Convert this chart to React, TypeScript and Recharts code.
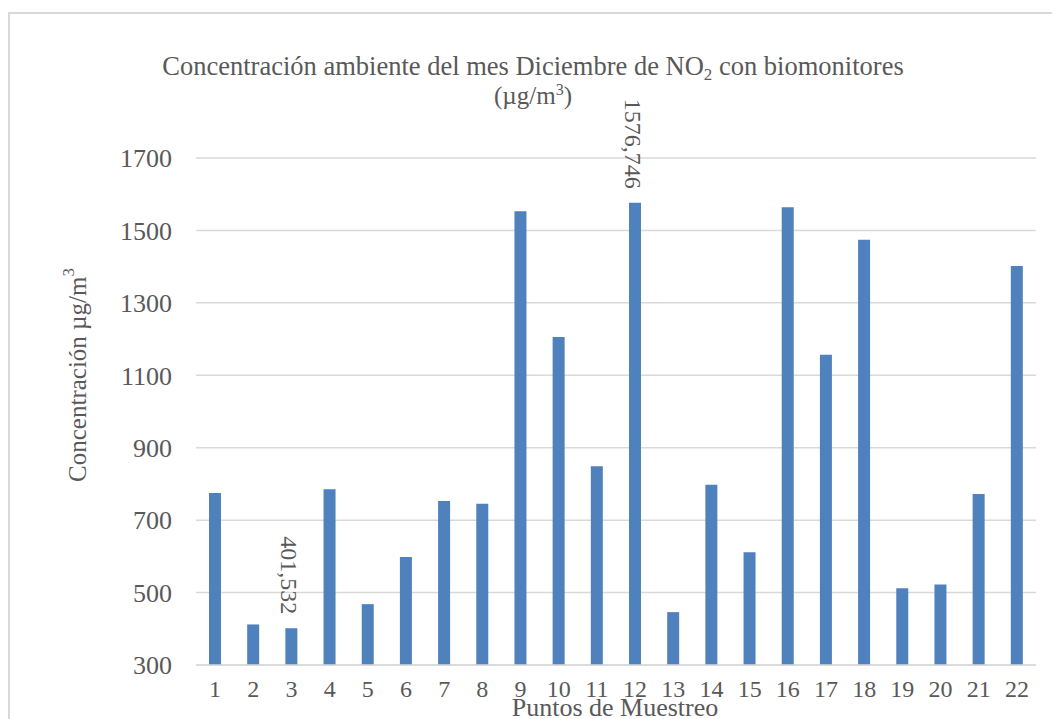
import React from 'react';
import { BarChart, Bar, XAxis, YAxis, CartesianGrid, LabelList } from 'recharts';

const puntos = ['1', '2', '3', '4', '5', '6', '7', '8', '9', '10', '11', '12', '13', '14', '15', '16', '17', '18', '19', '20', '21', '22'];
const concentracion = [775, 412, 401.532, 785, 468, 598, 753, 745, 1553, 1206, 849, 1576.746, 446, 798, 611, 1564, 1157, 1474, 512, 522, 772, 1402];
const etiquetas = [null, null, '401,532', null, null, null, null, null, null, null, null, '1576,746', null, null, null, null, null, null, null, null, null, null];
const yTicks = [300, 500, 700, 900, 1100, 1300, 1500, 1700];

const data = puntos.map((p, i) => ({ punto: p, valor: concentracion[i], etiqueta: etiquetas[i] }));

const TEXT = '#595959';
const FONT = '"Liberation Serif", "Times New Roman", serif';

const RotatedLabel = (props: any) => {
  const { x, y, width, value } = props;
  if (!value) return null;
  const cx = x + width / 2 - 2;
  const cy = y - 14;
  return (
    <text
      x={cx}
      y={cy}
      transform={`rotate(90, ${cx}, ${cy})`}
      textAnchor="end"
      dominantBaseline="central"
      fill={TEXT}
      fontSize={24}
      fontFamily={FONT}
    >
      {value}
    </text>
  );
};

export default function App() {
  return (
    <div style={{ position: 'relative', width: 1052, height: 711, overflow: 'hidden', fontFamily: FONT }}>
      <div
        style={{
          position: 'absolute', left: 0, top: 4, width: 1200, height: 900,
          borderLeft: '2px solid #d9d9d9', borderTop: '2px solid #d9d9d9',
        }}
      />
      <BarChart
        width={1052}
        height={711}
        data={data}
        margin={{ top: 150, right: 24, left: 0, bottom: 0 }}
        barSize={12}
        style={{ position: 'absolute', left: 0, top: 0 }}
      >
        <CartesianGrid vertical={false} stroke="#d9d9d9" strokeWidth={1.5} />
        <XAxis
          dataKey="punto"
          height={54}
          axisLine={{ stroke: '#d9d9d9', strokeWidth: 1.5 }}
          tickLine={false}
          tickSize={6}
          tickMargin={9}
          interval={0}
          tick={{ fill: TEXT, fontSize: 24, fontFamily: FONT }}
        />
        <YAxis
          width={188}
          domain={[300, 1700]}
          ticks={yTicks}
          axisLine={false}
          tickLine={false}
          tickSize={6}
          tickMargin={18}
          tick={{ fill: TEXT, fontSize: 26, fontFamily: FONT }}
        />
        <Bar dataKey="valor" fill="#4f81bd" isAnimationActive={false}>
          <LabelList dataKey="etiqueta" content={RotatedLabel} />
        </Bar>
      </BarChart>
      <svg width={1052} height={711} style={{ position: 'absolute', left: 0, top: 0, pointerEvents: 'none' }}>
        <text x={525} y={67} textAnchor="middle" fill={TEXT} fontSize={26.5} fontFamily={FONT}>
          Concentración ambiente del mes Diciembre de NO
          <tspan fontSize={17} dy={5}>2</tspan>
          <tspan dy={-5}> con biomonitores</tspan>
        </text>
        <text x={525} y={96} textAnchor="middle" fill={TEXT} fontSize={25} fontFamily={FONT}>
          (µg/m<tspan fontSize={16} dy={-9}>3</tspan><tspan dy={9}>)</tspan>
        </text>
        <text
          x={69}
          y={367}
          transform="rotate(-90, 69, 367)"
          textAnchor="middle"
          dominantBaseline="central"
          fill={TEXT}
          fontSize={25}
          fontFamily={FONT}
        >
          Concentración µg/m<tspan fontSize={17} dy={-9}>3</tspan>
        </text>
        <text x={607} y={708} textAnchor="middle" fill={TEXT} fontSize={26} fontFamily={FONT}>
          Puntos de Muestreo
        </text>
      </svg>
    </div>
  );
}
